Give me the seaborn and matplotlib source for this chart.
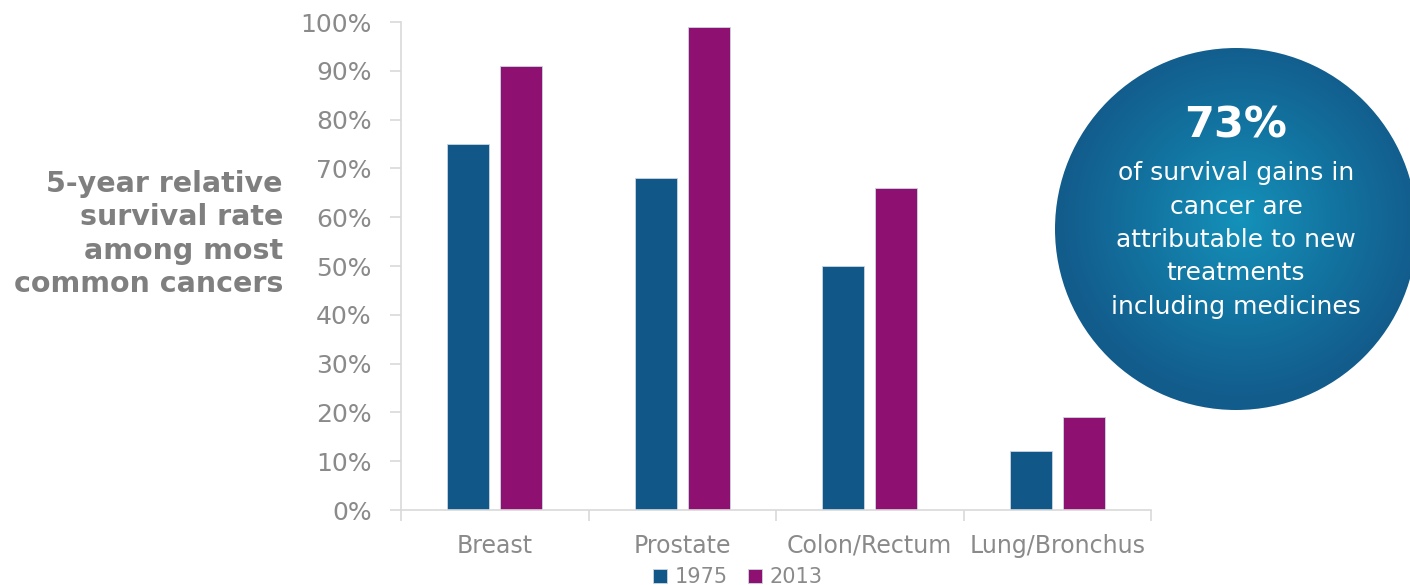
import numpy as np
import pandas as pd
import matplotlib
matplotlib.use("Agg")
import matplotlib.pyplot as plt
from matplotlib.patches import Circle
from matplotlib.ticker import MultipleLocator, FixedLocator
import seaborn as sns

# Five-year relative survival (%) by cancer site
cancers = ["Breast", "Prostate", "Colon/Rectum", "Lung/Bronchus"]
years = ["1975", "2013"]
survival_1975 = [75, 68, 50, 12]
survival_2013 = [91, 99, 66, 19]

df = pd.DataFrame({
    "cancer": cancers * 2,
    "year": [years[0]] * len(cancers) + [years[1]] * len(cancers),
    "rate": survival_1975 + survival_2013,
})

sns.set_theme(style="white")
plt.rcParams["font.family"] = ["DejaVu Sans"]

W, H = 1410, 585
fig = plt.figure(figsize=(W / 100, H / 100), dpi=100)
ax = fig.add_axes([401 / W, 1 - 510 / H, 750 / W, 488 / H])

palette = {"1975": "#115888", "2013": "#8E1071"}
sns.barplot(data=df, x="cancer", y="rate", hue="year", palette=palette,
            width=0.565, gap=0.21, saturation=1, ax=ax,
            edgecolor="#c9d6e3", linewidth=0.6)

axis_col = "#d9d9d9"
text_col = "#8a8a8a"
ax.set_ylim(0, 100)
ax.set_xlim(-0.5, len(cancers) - 0.5)
ax.yaxis.set_major_locator(MultipleLocator(10))
ax.set_yticklabels([f"{int(v)}%" for v in ax.get_yticks()])
ax.tick_params(axis="y", length=8, width=1.2, color=axis_col, labelsize=18,
               labelcolor=text_col, pad=13, left=True)
ax.tick_params(axis="x", which="major", length=0, labelsize=17,
               labelcolor=text_col, pad=17)
ax.xaxis.set_minor_locator(FixedLocator(np.arange(-0.5, len(cancers), 1.0)))
ax.tick_params(axis="x", which="minor", length=8, width=1.2, color=axis_col,
               bottom=True)
ax.set_xlabel("")
ax.set_ylabel("")
for side in ["top", "right"]:
    ax.spines[side].set_visible(False)
for side in ["left", "bottom"]:
    ax.spines[side].set_color(axis_col)
    ax.spines[side].set_linewidth(1.2)

sns.move_legend(ax, "center", bbox_to_anchor=(738 / W, 1 - 577 / H),
                bbox_transform=fig.transFigure, ncol=2,
                frameon=False, title=None, fontsize=15, handlelength=0.67,
                handleheight=0.67, handletextpad=0.35, columnspacing=1.0,
                borderaxespad=0, borderpad=0)
for t in ax.get_legend().get_texts():
    t.set_color(text_col)

# Left-hand title
fig.text(283 / W, 1 - 234 / H,
         "5-year relative\nsurvival rate\namong most\ncommon cancers",
         ha="right", va="center", fontsize=20.5, fontweight="bold",
         color="#7f7f7f", linespacing=1.25)

# Call-out bubble with radial gradient
ov = fig.add_axes([0, 0, 1, 1], zorder=5)
ov.set_xlim(0, W)
ov.set_ylim(H, 0)
ov.axis("off")
cx, cy, r = 1236, 229, 181
yy, xx = np.mgrid[cy - r:cy + r:400j, cx - r:cx + r:400j]
d = np.clip(np.hypot(xx - cx - 5, yy - cy + 10) / r, 0, 1)
inner = np.array([0x14, 0x93, 0xBB]) / 255
outer = np.array([0x12, 0x5C, 0x8C]) / 255
t = d[..., None] ** 0.9
img = inner * (1 - t) + outer * t
im = ov.imshow(img, extent=(cx - r, cx + r, cy + r, cy - r), zorder=1)
circ = Circle((cx, cy), r, transform=ov.transData, facecolor="none",
              edgecolor="none")
ov.add_patch(circ)
im.set_clip_path(circ)

ov.text(cx, 125, "73%", ha="center", va="center", color="white",
        fontsize=31, fontweight="bold")
ov.text(cx, 240, "of survival gains in\ncancer are\nattributable to new\n"
        "treatments\nincluding medicines", ha="center", va="center",
        color="white", fontsize=18, linespacing=1.5)

fig.savefig("out.png", dpi=100)
